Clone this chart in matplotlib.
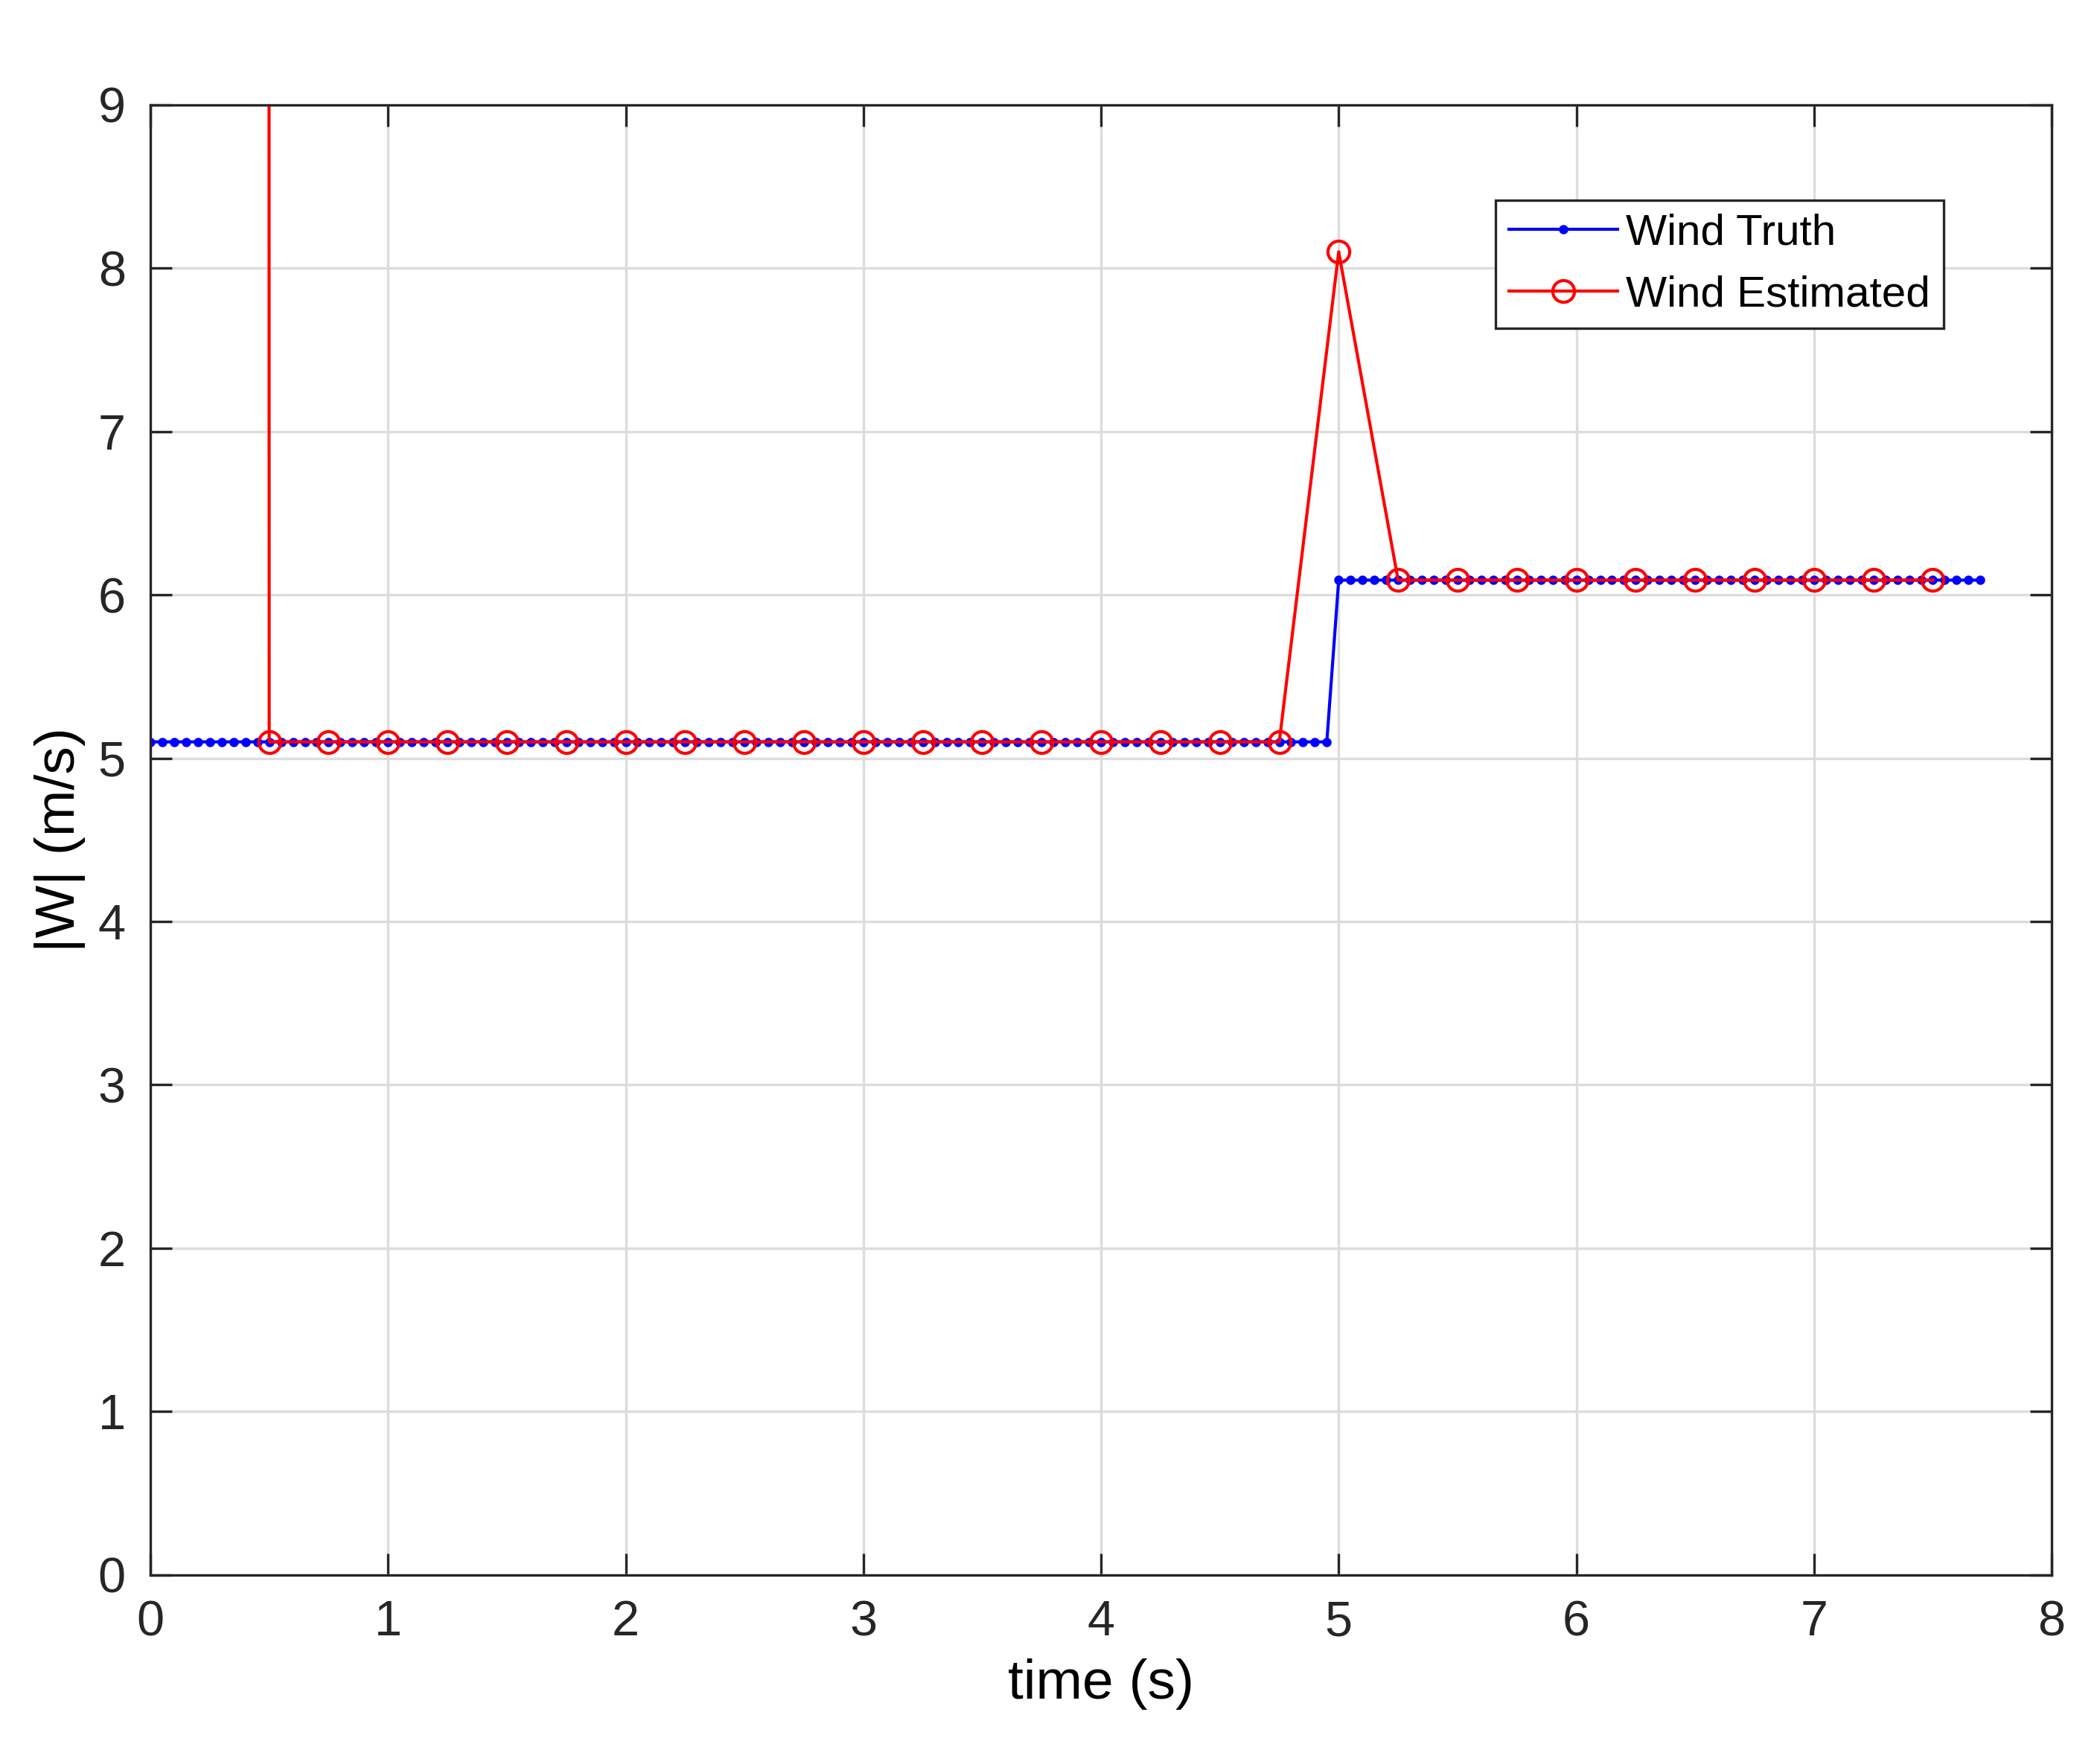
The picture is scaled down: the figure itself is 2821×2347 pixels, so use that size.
import numpy as np
import matplotlib.pyplot as plt

plt.rcParams['font.family'] = ['Liberation Sans', 'DejaVu Sans']

# wind truth, sampled every 0.05 s
t_truth = np.round(np.arange(0, 7.70001, 0.05), 2)
w_low = 5.1
w_high = 6.09
w_truth = [w_low] * 100 + [w_high] * (len(t_truth) - 100)

# wind estimated, every 0.25 s, with initial spike off the top
t_est = [0.495] + [0.5, 0.75, 1.0, 1.25, 1.5, 1.75, 2.0, 2.25, 2.5, 2.75, 3.0, 3.25, 3.5,
                   3.75, 4.0, 4.25, 4.5, 4.75, 5.0, 5.25, 5.5, 5.75, 6.0, 6.25, 6.5,
                   6.75, 7.0, 7.25, 7.5]
w_est = [40.0] + [5.1] * 18 + [8.1] + [6.09] * 10

fig = plt.figure(figsize=(2821 / 300, 2347 / 300), dpi=300)
ax = fig.add_axes([0.0716, 0.0985, 0.9054, 0.8415])
ax.plot(t_truth, w_truth, '-', color='b', marker='.', markersize=4, lw=1, label='Wind Truth')
ax.plot(t_est, w_est, '-', color='r', marker='o', markersize=7, mfc='none', lw=1,
        label='Wind Estimated')
ax.set_xlim(0, 8)
ax.set_ylim(0, 9)
ax.set_xticks(range(9))
ax.set_yticks(range(10))
ax.grid(True, color='#dcdcdc', lw=0.8)
ax.tick_params(direction='in', labelsize=16, top=True, right=True, length=7, pad=8,
               colors='#262626')
for s in ax.spines.values():
    s.set_color('#262626')
    s.set_linewidth(0.8)
ax.set_xlabel('time (s)', fontsize=18)
ax.set_ylabel('|W| (m/s)', fontsize=18)
leg = ax.legend(loc='upper right', bbox_to_anchor=(0.943, 0.935), fontsize=14, fancybox=False,
                framealpha=1, edgecolor='#262626', borderpad=0.3, handlelength=2.5,
                handletextpad=0.2, borderaxespad=0)
leg.get_frame().set_linewidth(0.8)
fig.savefig('out.png', dpi=300)
